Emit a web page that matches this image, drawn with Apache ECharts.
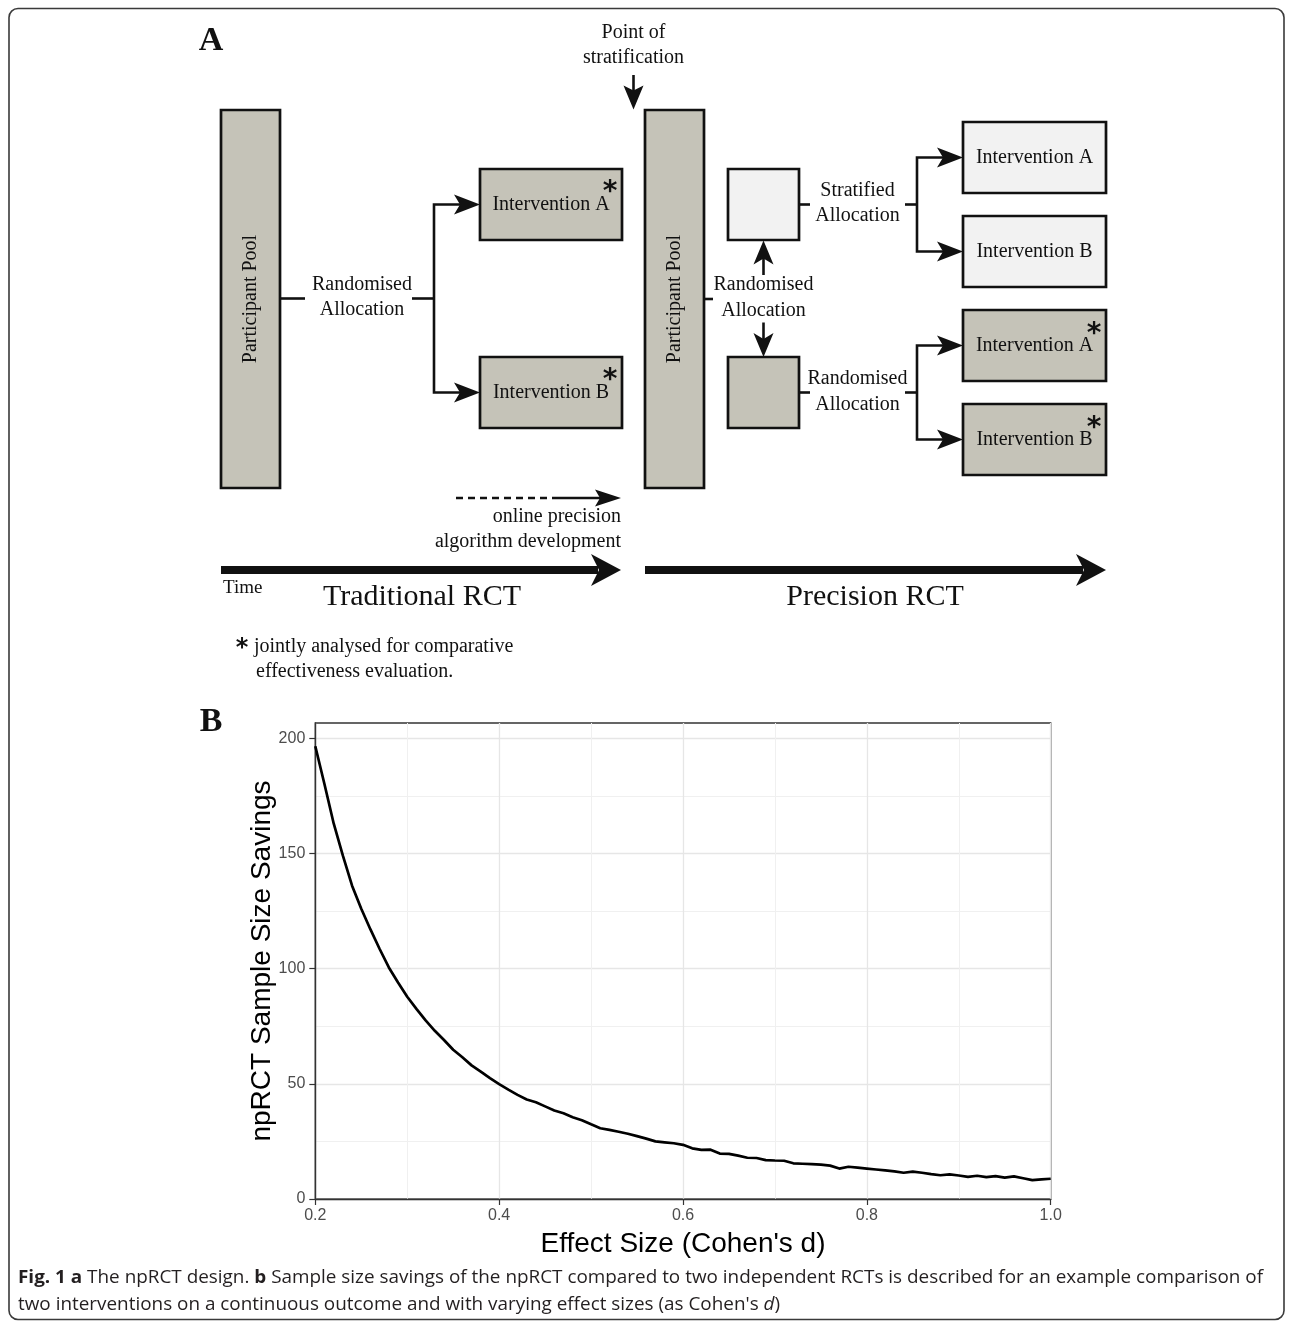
<!DOCTYPE html>
<html>
<head>
<meta charset="utf-8">
<script src="https://cdn.jsdelivr.net/npm/echarts@6/dist/echarts.min.js"></script>
<style>
html,body{margin:0;padding:0;background:#fff;}
#chart{width:1292px;height:1328px;}
</style>
</head>
<body>
<div id="chart"></div>
<script>
// ---------------- DATA (panel B) ----------------
const effectSize = [
  0.20,0.21,0.22,0.23,0.24,0.25,0.26,0.27,0.28,0.29,
  0.30,0.31,0.32,0.33,0.34,0.35,0.36,0.37,0.38,0.39,
  0.40,0.41,0.42,0.43,0.44,0.45,0.46,0.47,0.48,0.49,
  0.50,0.51,0.52,0.53,0.54,0.55,0.56,0.57,0.58,0.59,
  0.60,0.61,0.62,0.63,0.64,0.65,0.66,0.67,0.68,0.69,
  0.70,0.71,0.72,0.73,0.74,0.75,0.76,0.77,0.78,0.79,
  0.80,0.81,0.82,0.83,0.84,0.85,0.86,0.87,0.88,0.89,
  0.90,0.91,0.92,0.93,0.94,0.95,0.96,0.97,0.98,0.99,
  1.00
];
const savings = [
  196.5,180.0,163.0,149.0,136.0,126.0,117.0,108.5,100.5,94.0,
  87.8,82.5,77.5,73.0,69.0,64.8,61.5,58.0,55.3,52.5,
  49.9,47.5,45.2,43.2,42.0,40.2,38.4,37.2,35.5,34.2,
  32.4,30.7,30.0,29.2,28.3,27.3,26.2,25.0,24.6,24.2,
  23.5,22.0,21.3,21.4,19.7,19.6,18.8,17.9,17.8,16.9,
  16.7,16.6,15.5,15.3,15.1,14.9,14.5,13.2,14.0,13.6,
  13.2,12.8,12.4,12.0,11.4,11.9,11.4,10.8,10.3,10.7,
  10.2,9.6,10.1,9.5,9.9,9.3,9.8,9.0,8.2,8.5,
  8.8
];
const xTicks = [0.2, 0.4, 0.6, 0.8, 1.0];
const yTicks = [0, 50, 100, 150, 200];
const yMinorTicks = [25, 75, 125, 175];
const xTitle = "Effect Size (Cohen's d)";
const yTitle = "npRCT Sample Size Savings";

// ---------------- TEXT (panel A + caption) ----------------
const captionLine1 = [
  {t: 'Fig. 1 a', s: 'b'},
  {t: ' The npRCT design. ', s: 'r'},
  {t: 'b', s: 'b'},
  {t: ' Sample size savings of the npRCT compared to two independent RCTs is described for an example comparison of', s: 'r'}
];
const captionLine2 = [
  {t: "two interventions on a continuous outcome and with varying effect sizes (as Cohen's ", s: 'r'},
  {t: 'd', s: 'i'},
  {t: ')', s: 'r'}
];

// ---------------- DIAGRAM HELPERS ----------------
const SERIF = '"Liberation Serif","Times New Roman",serif';
const DARK = '#c5c3b8';
const LIGHT = '#f2f2f2';
const G = [];
function box(x, y, w, h, fill) {
  G.push({type: 'rect', z: 10, shape: {x: x, y: y, width: w, height: h},
    style: {fill: fill, stroke: '#111', lineWidth: 2.7}});
}
function txt(str, x, y, opt) {
  opt = opt || {};
  const align = opt.align || 'center';
  const el = {type: 'text', z: 12, x: x, y: y, rotation: opt.rotation || 0,
    style: {text: str, fill: opt.color || '#111',
      font: (opt.weight || 'normal') + ' ' + (opt.size || 20) + 'px ' + (opt.family || SERIF),
      align: align, textAlign: align, verticalAlign: 'middle', textVerticalAlign: 'middle'}};
  G.push(el);
}
function line(pts, w, dash) {
  G.push({type: 'polyline', z: 11, shape: {points: pts},
    style: {stroke: '#111', lineWidth: w || 2.6, fill: null, lineDash: dash || null, lineCap: 'butt', lineJoin: 'miter'}});
}
function head(tx, ty, dx, dy, L, W, N) {
  const nx = -dy, ny = dx;
  const pts = [
    [tx, ty],
    [tx - L * dx + W * nx, ty - L * dy + W * ny],
    [tx - (L - N) * dx, ty - (L - N) * dy],
    [tx - L * dx - W * nx, ty - L * dy - W * ny]
  ];
  G.push({type: 'polygon', z: 12, shape: {points: pts}, style: {fill: '#111', stroke: null}});
}
function star(x, y, size) {
  txt('*', x, y + 6, {size: size || 28, weight: 'bold', family: '"DejaVu Sans",sans-serif'});
}

// ---------------- PANEL A ----------------
txt('A', 211, 41, {size: 34, weight: 'bold'});
txt('Point of', 633.5, 33);
txt('stratification', 633.5, 58);
line([[633.5, 75], [633.5, 95]]);
head(633.5, 109.5, 0, 1, 24, 10, 5);

// traditional RCT
box(221, 110, 59, 378, DARK);
txt('Participant Pool', 250.5, 299, {rotation: Math.PI / 2});
line([[280, 298.5], [305, 298.5]]);
txt('Randomised', 362, 285);
txt('Allocation', 362, 310);
line([[412, 298.5], [434, 298.5]]);
line([[460, 204.5], [434, 204.5], [434, 392.5], [460, 392.5]]);
head(480, 204.5, 1, 0, 26, 10, 6);
head(480, 392.5, 1, 0, 26, 10, 6);
box(480, 169, 142, 71, DARK);
box(480, 357, 142, 71, DARK);
txt('Intervention A', 551, 204.5);
txt('Intervention B', 551, 392.5);
star(610, 187);
star(610, 375);

// precision RCT
box(645, 110, 59, 378, DARK);
txt('Participant Pool', 674.5, 299, {rotation: Math.PI / 2});
line([[704, 299], [713, 299]]);
txt('Randomised', 763.5, 285);
txt('Allocation', 763.5, 310.5);
line([[763.5, 275], [763.5, 258]]);
head(763.5, 240.5, 0, -1, 24, 10, 6);
line([[763.5, 322.5], [763.5, 340]]);
head(763.5, 357, 0, 1, 24, 10, 6);
box(728, 169, 71, 71, LIGHT);
box(728, 357, 71, 71, DARK);

line([[799, 204.5], [810, 204.5]]);
txt('Stratified', 857.5, 191);
txt('Allocation', 857.5, 216);
line([[905, 204.5], [917, 204.5]]);
line([[943, 157.5], [917, 157.5], [917, 251.5], [943, 251.5]]);
head(963, 157.5, 1, 0, 26, 10, 6);
head(963, 251.5, 1, 0, 26, 10, 6);

line([[799, 392.5], [810, 392.5]]);
txt('Randomised', 857.5, 379);
txt('Allocation', 857.5, 405);
line([[905, 392.5], [917, 392.5]]);
line([[943, 345.5], [917, 345.5], [917, 439.5], [943, 439.5]]);
head(963, 345.5, 1, 0, 26, 10, 6);
head(963, 439.5, 1, 0, 26, 10, 6);

box(963, 122, 143, 71, LIGHT);
box(963, 216, 143, 71, LIGHT);
box(963, 310, 143, 71, DARK);
box(963, 404, 143, 71, DARK);
txt('Intervention A', 1034.5, 157.5);
txt('Intervention B', 1034.5, 251.5);
txt('Intervention A', 1034.5, 345.5);
txt('Intervention B', 1034.5, 439.5);
star(1094, 329);
star(1094, 423);

// online precision arrow
line([[456, 498], [558, 498]], 2.6, [7, 5]);
line([[558, 498], [601, 498]]);
head(621, 498, 1, 0, 26, 8.5, 5);
txt('online precision', 621, 517, {align: 'right'});
txt('algorithm development', 621, 542, {align: 'right'});

// time arrows
line([[221, 570], [598, 570]], 8);
head(621, 570, 1, 0, 30, 16, 8);
line([[645, 570], [1083, 570]], 8);
head(1106, 570, 1, 0, 30, 16, 8);
txt('Time', 223, 588, {align: 'left', size: 19});
txt('Traditional RCT', 422, 597, {size: 30});
txt('Precision RCT', 875, 597, {size: 30});

star(242, 643, 24);
txt('jointly analysed for comparative', 254, 647, {align: 'left'});
txt('effectiveness evaluation.', 256, 672, {align: 'left'});

// panel B label
txt('B', 211, 722, {size: 34, weight: 'bold'});

// ---------------- CAPTION ----------------
const CAP_FAMILY = '"Open Sans",sans-serif';
const CAP_SIZE = 18;
const ctx = document.createElement('canvas').getContext('2d');
function segFont(s) {
  return (s === 'i' ? 'italic ' : '') + (s === 'b' ? 'bold ' : 'normal ') + CAP_SIZE + 'px ' + CAP_FAMILY;
}
function measure(segs) {
  let w = 0;
  segs.forEach(function (sg) { ctx.font = segFont(sg.s); w += ctx.measureText(sg.t).width; });
  return w;
}
function richText(segs) {
  return segs.map(function (sg) { return '{' + sg.s + '|' + sg.t + '}'; }).join('');
}
const capScale = 1245 / measure(captionLine1);
const richStyles = {
  b: {fontWeight: 'bold', fontFamily: CAP_FAMILY, fontSize: CAP_SIZE, fill: '#231f20'},
  r: {fontWeight: 'normal', fontFamily: CAP_FAMILY, fontSize: CAP_SIZE, fill: '#231f20'},
  i: {fontStyle: 'italic', fontFamily: CAP_FAMILY, fontSize: CAP_SIZE, fill: '#231f20'}
};
[[captionLine1, 1278], [captionLine2, 1305]].forEach(function (p) {
  G.push({type: 'text', z: 12, x: 18, y: p[1], scaleX: capScale, scaleY: 1,
    style: {text: richText(p[0]), rich: richStyles, fontFamily: CAP_FAMILY, fontSize: CAP_SIZE,
      fill: '#231f20', align: 'left', textAlign: 'left', verticalAlign: 'middle', textVerticalAlign: 'middle'}});
});

// outer frame
G.push({type: 'rect', z: 1, shape: {x: 9, y: 8.5, width: 1275, height: 1311, r: 9},
  style: {fill: null, stroke: '#3a3a3a', lineWidth: 1.6}});

// ---------------- CHART ----------------
const chart = echarts.init(document.getElementById('chart'), null, {renderer: 'canvas'});
const SANS = '"Liberation Sans", Arial, sans-serif';
chart.setOption({
  animation: false,
  backgroundColor: '#ffffff',
  grid: {left: 315.3, right: 241.3, top: 723, bottom: 129, show: true,
    borderColor: '#333333', borderWidth: 1.4, backgroundColor: '#ffffff'},
  xAxis: {
    type: 'value', min: 0.2, max: 1.0, interval: 0.2,
    name: xTitle, nameLocation: 'middle', nameGap: 31, nameMoveOverlap: false,
    nameTextStyle: {fontFamily: SANS, fontSize: 28, color: '#000'},
    axisLine: {show: true, lineStyle: {color: '#333333', width: 1.4}},
    axisTick: {show: true, length: 6, lineStyle: {color: '#333333', width: 1.2}, customValues: xTicks},
    axisLabel: {customValues: xTicks, formatter: function (v) { return Number(v).toFixed(1); },
      fontFamily: SANS, fontSize: 16, color: '#4d4d4d', margin: 9},
    splitLine: {show: true, lineStyle: {color: '#e6e6e6', width: 1.3}},
    minorTick: {show: false, splitNumber: 2},
    minorSplitLine: {show: true, lineStyle: {color: '#f0f0f0', width: 1}}
  },
  yAxis: [{
    type: 'value', min: 0, max: 206.6, interval: 50,
    name: yTitle, nameLocation: 'middle', nameGap: 39, nameRotate: 90, nameMoveOverlap: false,
    nameTextStyle: {fontFamily: SANS, fontSize: 28, color: '#000'},
    axisLine: {show: true, lineStyle: {color: '#333333', width: 1.4}},
    axisTick: {show: true, length: 6, lineStyle: {color: '#333333', width: 1.2}, customValues: yTicks},
    axisLabel: {customValues: yTicks, fontFamily: SANS, fontSize: 16, color: '#4d4d4d', margin: 10},
    splitLine: {show: true, lineStyle: {color: '#e6e6e6', width: 1.3}}
  }, {
    type: 'value', min: 0, max: 206.6, position: 'left',
    axisLine: {show: false}, axisLabel: {show: false},
    axisTick: {show: false, customValues: yMinorTicks},
    splitLine: {show: true, lineStyle: {color: '#f0f0f0', width: 1}}
  }],
  series: [{
    type: 'line', yAxisIndex: 0, showSymbol: false, symbol: 'none', smooth: false,
    data: effectSize.map(function (x, i) { return [x, savings[i]]; }),
    lineStyle: {color: '#000', width: 2.7}, z: 5
  }],
  graphic: G
});
</script>
</body>
</html>
